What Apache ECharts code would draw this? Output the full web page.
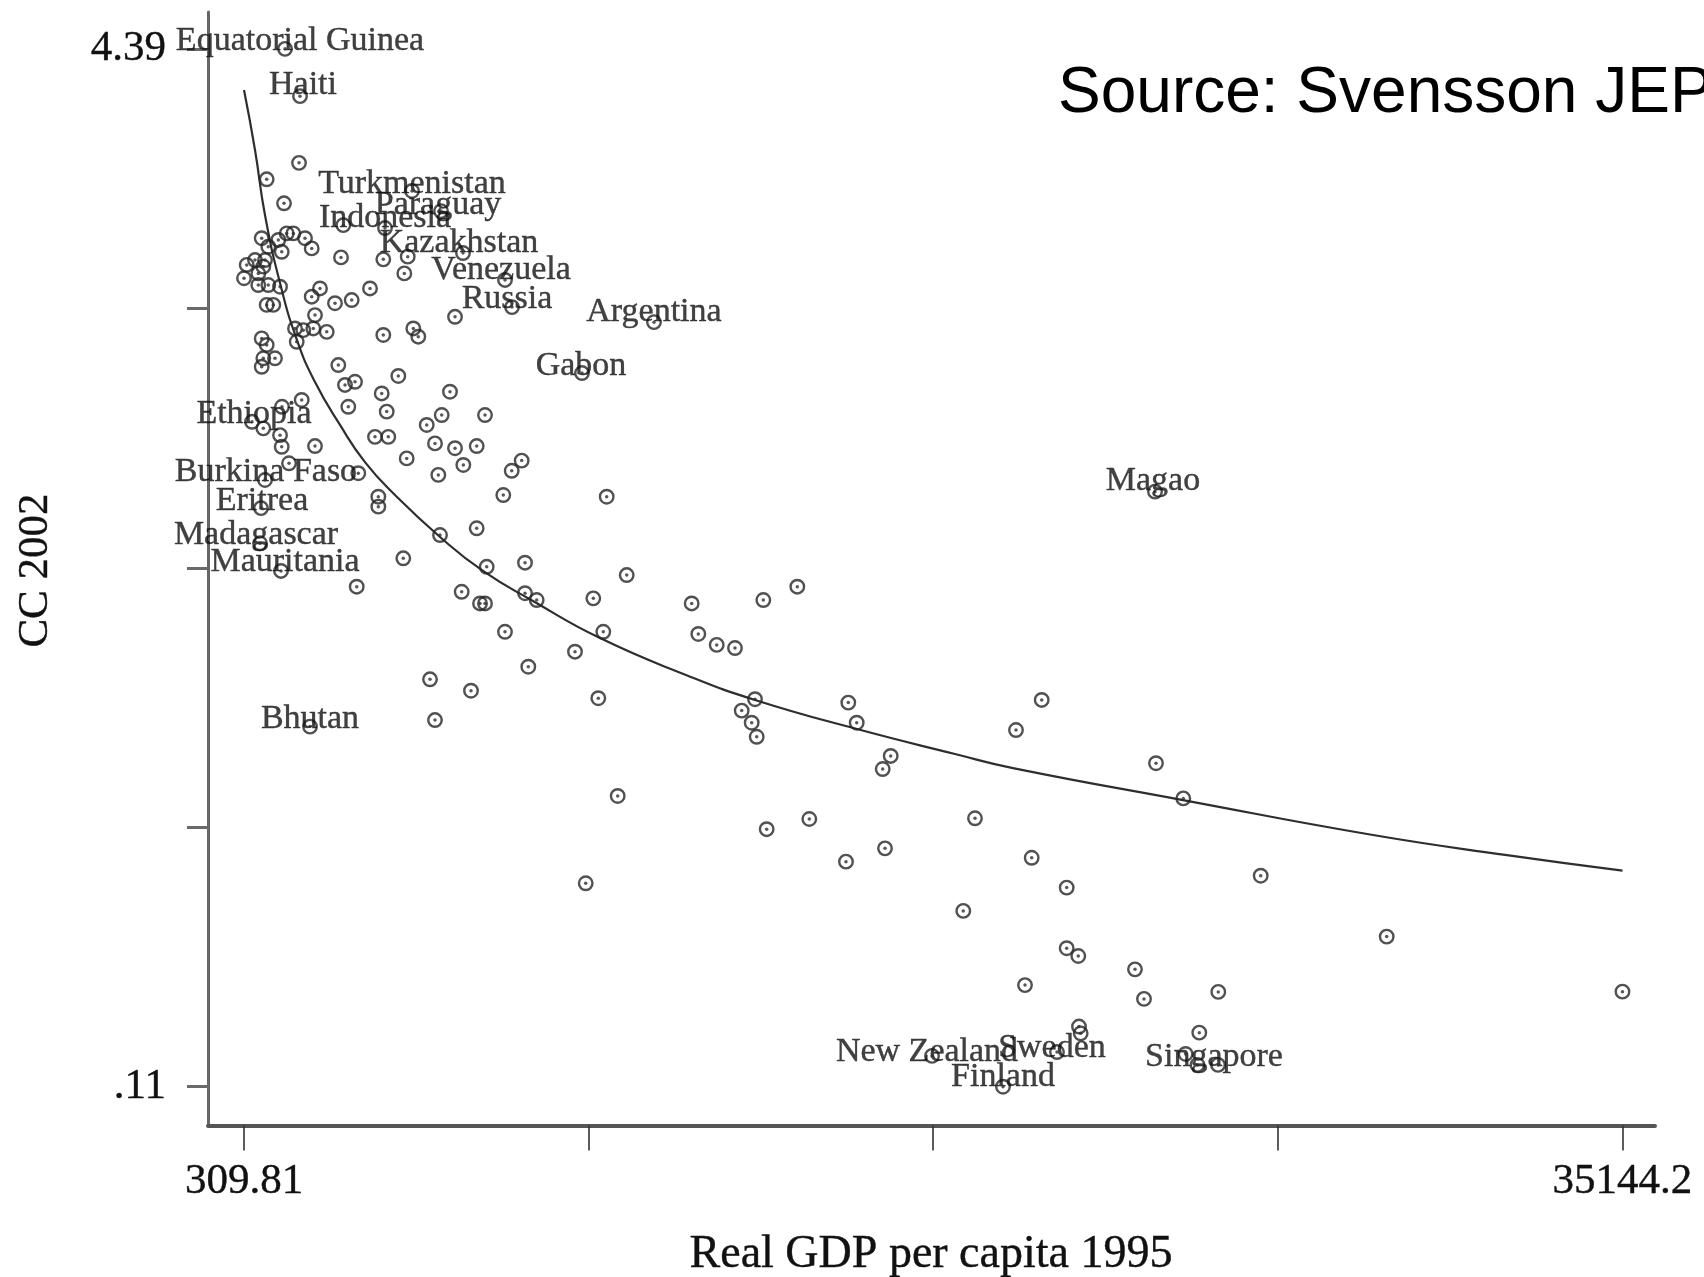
<!DOCTYPE html>
<html>
<head>
<meta charset="utf-8">
<script src="https://cdn.jsdelivr.net/npm/echarts@6/dist/echarts.min.js"></script>
<style>
  html, body { margin: 0; padding: 0; background: #ffffff; }
  #chart { width: 1704px; height: 1277px; }
</style>
</head>
<body>
<div id="chart"></div>
<script>
// Control of corruption (CC 2002) against real GDP per capita (1995)

// Named countries
const countryNames = ['Equatorial Guinea', 'Haiti', 'Turkmenistan', 'Paraguay', 'Indonesia', 'Kazakhstan',
  'Venezuela', 'Russia', 'Argentina', 'Gabon', 'Ethiopia', 'Burkina Faso', 'Eritrea', 'Madagascar',
  'Mauritania', 'Bhutan', 'Magao', 'New Zealand', 'Sweden', 'Finland', 'Singapore'];
const countryGDP = [1346, 1725, 4555, 5288, 3873, 5844, 6905, 7082, 10670, 8851, 512, 840, 739, 714,
  1245, 1978, 23331, 17696, 20854, 19490, 24923];
const countryCC = [4.39, 4.195, 3.804, 3.721, 3.651, 3.548, 3.437, 3.325, 3.263, 3.053, 2.852, 2.612, 2.496, 2.351,
  2.237, 1.595, 2.564, 0.237, 0.253, 0.11, 0.200];

// Remaining countries (unlabelled)
const otherGDP = [
  1700, 883, 1321, 2819, 757, 1177, 1389, 1556, 1263, 1851, 2021, 924, 588, 841, 378, 309.81, 671, 798, 671, 924,
  1220, 2761, 3830, 4447, 4361, 3494, 2230, 2021, 2609, 3031, 883, 1050, 5642, 3830, 4588, 4714, 757, 1599, 1808, 2061,
  2400, 1642, 883, 2104,
  798, 1093, 757, 2693, 2862, 3115, 4209, 2945, 3790, 3916, 3620, 3956, 5515, 5306, 4927, 6400, 5136, 5642, 6190, 5852,
  5220, 4421, 7327, 7075, 6862, 9475, 1768, 798, 1220, 1263, 2104, 1270, 1447, 3198, 3704, 3704, 6190, 5263, 4335, 6443,
  7411, 9981, 3158, 5811, 6274, 6400, 7411, 7706, 9137, 11623, 6905, 9389, 11790, 12255, 12717,
  8674, 7494, 5010, 6046, 9263, 5136, 9753, 8945,
  14292, 13433, 13223, 12887, 13139, 13266, 15580, 15793, 16652, 16450, 20468, 19818, 23356, 24046, 13518, 14595,
  18782, 16508, 15522, 20215, 21099, 18486,
  26002, 29186, 21099, 21392, 20046, 22825, 23053, 24930, 24450, 21410, 21453, 24104, 24405, 35144.2
];
const otherCC = [
  3.920, 3.852, 3.753, 3.663, 3.609, 3.602, 3.629, 3.629, 3.553, 3.609, 3.567, 3.574, 3.519, 3.519, 3.499, 3.444, 3.464, 3.492, 3.416, 3.416,
  3.409, 3.530, 3.522, 3.533, 3.464, 3.402, 3.402, 3.368, 3.341, 3.354, 3.334, 3.334, 3.285, 3.210, 3.237, 3.203, 3.196, 3.237, 3.230, 3.237,
  3.223, 3.182, 3.169, 3.292,
  3.114, 3.114, 3.079, 3.086, 3.004, 3.017, 3.041, 2.914, 2.969, 2.894, 2.790, 2.790, 2.976, 2.880, 2.839, 2.880, 2.763, 2.743, 2.752, 2.674,
  2.633, 2.701, 2.692, 2.650, 2.550, 2.543, 2.942, 2.825, 2.797, 2.749, 2.752, 2.914, 2.681, 2.640, 2.543, 2.502, 2.413, 2.385, 2.289, 2.254,
  2.271, 2.220, 2.172, 2.151, 2.103, 2.103, 2.145, 2.117, 2.124, 2.103, 1.986, 1.986, 1.977, 1.932, 1.919,
  1.904, 1.842, 1.790, 1.743, 1.712, 1.622, 1.309, 0.949,
  2.172, 2.117, 1.708, 1.661, 1.611, 1.553, 1.694, 1.611, 1.474, 1.420, 1.705, 1.581, 1.444, 1.299, 1.172, 1.214,
  1.217, 1.093, 1.038, 1.054, 0.931, 0.835,
  0.980, 0.729, 0.681, 0.649, 0.529, 0.594, 0.472, 0.501, 0.333, 0.358, 0.330, 0.245, 0.200, 0.502
];

// Fitted curve, sampled along its length
const fitGDP = [309.81, 588, 840, 1220, 1649, 2104, 2736, 3367, 4126, 5263, 6349, 7613, 9306, 11479, 13223,
  15800, 18277, 19742, 24038, 28840, 32226, 35144.2];
const fitCC = [4.220, 3.973, 3.705, 3.424, 3.189, 3.016, 2.839, 2.686, 2.550, 2.377, 2.237, 2.113, 1.960, 1.808, 1.705,
  1.585, 1.482, 1.424, 1.292, 1.148, 1.065, 1.001];

// Axis ticks: evenly spaced between data min and max, only the ends labelled
const xTickValues = [309.81, 9018.41, 17727.0, 26435.6, 35144.2];
const xLabelValues = [309.81, 35144.2];
const xLabelText = ['309.81', '35144.2'];
const yTickValues = [0.11, 1.18, 2.25, 3.32, 4.39];
const yLabelValues = [4.39, 0.11];
const yLabelText = ['4.39', '.11'];

// Per-label nudges (pixels) so each name sits over its marker
const labelNudge = {
  'Equatorial Guinea': [15, -8], 'Haiti': [3, -11], 'Turkmenistan': [0, -7], 'Paraguay': [-3, -6],
  'Indonesia': [0, -10], 'Kazakhstan': [-4, -10], 'Venezuela': [-4, -10], 'Russia': [-5, -8],
  'Argentina': [0, -10], 'Gabon': [-1, -7], 'Ethiopia': [2, -8], 'Burkina Faso': [1, -8],
  'Eritrea': [1, -7], 'Madagascar': [-4, -8], 'Mauritania': [4, -9], 'Bhutan': [0, -8],
  'Magao': [-2, -11], 'New Zealand': [-5, -4], 'Sweden': [-5, -4], 'Finland': [0, -10], 'Singapore': [-4, -8]
};

const SERIF = "'Liberation Serif', 'DejaVu Serif', 'Times New Roman', serif";
const SANS = "'Liberation Sans', Arial, Helvetica, sans-serif";
const INK = '#111111';

function pickLabel(values, texts) {
  return function (v) {
    for (let i = 0; i < values.length; i++) {
      if (Math.abs(values[i] - v) < 1e-6) return texts[i];
    }
    return '';
  };
}

const labelledData = countryNames.map((name, i) => {
  const nudge = labelNudge[name] || [0, -9];
  return { name: name, value: [countryGDP[i], countryCC[i]], label: { offset: nudge } };
});
const otherData = otherGDP.map((g, i) => [g, otherCC[i]]);
const allPoints = otherData.concat(countryGDP.map((g, i) => [g, countryCC[i]]));
const fitData = fitGDP.map((g, i) => [g, fitCC[i]]);

// Hollow circle marker
const ring = {
  color: 'rgba(255,255,255,0)',
  borderColor: '#262626',
  borderWidth: 2.4
};

// Slightly heavier serif text
const serifText = { fontFamily: SERIF, color: INK, textBorderColor: INK, textBorderWidth: 0.4 };

const chart = echarts.init(document.getElementById('chart'), null, { renderer: 'canvas' });

chart.setOption({
  animation: false,
  backgroundColor: '#ffffff',
  grid: { left: 208, right: 49, top: 12, bottom: 151.5, containLabel: false },
  xAxis: {
    type: 'value',
    min: -600,
    max: 35966,
    splitLine: { show: false },
    axisLine: { show: true, onZero: false, lineStyle: { color: '#555555', width: 4 } },
    axisTick: { show: true, customValues: xTickValues, length: 25, lineStyle: { color: '#333333', width: 1.6 } },
    axisLabel: Object.assign({
      show: true, customValues: xLabelValues, margin: 35,
      formatter: pickLabel(xLabelValues, xLabelText),
      fontSize: 43
    }, serifText)
  },
  yAxis: {
    type: 'value',
    min: -0.05,
    max: 4.542,
    splitLine: { show: false },
    axisLine: { show: true, onZero: false, lineStyle: { color: '#666666', width: 3 } },
    axisTick: { show: true, customValues: yTickValues, length: 21, lineStyle: { color: '#6a6a6a', width: 3 } },
    axisLabel: Object.assign({
      show: true, customValues: yLabelValues, margin: 42,
      formatter: pickLabel(yLabelValues, yLabelText),
      fontSize: 43
    }, serifText)
  },
  graphic: [
    {
      type: 'text', x: 931, y: 1255, silent: true,
      style: { text: 'Real GDP per capita 1995', font: '46px ' + SERIF, fill: INK, stroke: INK, lineWidth: 0.4,
        align: 'center', verticalAlign: 'middle' }
    },
    {
      type: 'text', x: 36, y: 570.5, rotation: Math.PI / 2, silent: true,
      style: { text: 'CC 2002', font: '43px ' + SERIF, fill: INK, stroke: INK, lineWidth: 0.4,
        align: 'center', verticalAlign: 'middle' }
    },
    {
      type: 'text', x: 1058, y: 94.5, silent: true,
      style: { text: 'Source: Svensson JEP', font: '64px ' + SANS, fill: '#000000', align: 'left', verticalAlign: 'middle' }
    }
  ],
  series: [
    {
      name: 'fit',
      type: 'line',
      data: fitData,
      smooth: 0.5,
      symbol: 'none',
      silent: true,
      lineStyle: { color: '#2e2e2e', width: 2.2 },
      z: 2
    },
    {
      name: 'countries',
      type: 'scatter',
      data: otherData,
      symbol: 'circle',
      symbolSize: 13.5,
      itemStyle: ring,
      z: 3
    },
    {
      name: 'named',
      type: 'scatter',
      data: labelledData,
      symbol: 'circle',
      symbolSize: 13.5,
      itemStyle: ring,
      label: Object.assign({
        show: true,
        position: 'inside',
        formatter: '{b}',
        fontSize: 34
      }, serifText),
      z: 4
    },
    {
      name: 'centres',
      type: 'scatter',
      data: allPoints,
      symbol: 'circle',
      symbolSize: 3.5,
      silent: true,
      itemStyle: { color: '#2e2e2e' },
      z: 5
    }
  ]
});
</script>
</body>
</html>
